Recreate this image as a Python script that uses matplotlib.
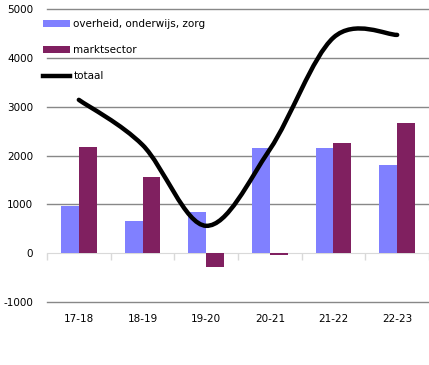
import numpy as np
import matplotlib
matplotlib.use("Agg")
import matplotlib.pyplot as plt
from matplotlib.path import Path
from matplotlib.patches import PathPatch, Patch
from matplotlib.lines import Line2D

categories = ["17-18", "18-19", "19-20", "20-21", "21-22", "22-23"]
overheid = [965, 657, 840, 2155, 2155, 1800]
marktsector = [2175, 1560, -280, -30, 2260, 2670]
totaal = [3140, 2217, 560, 2125, 4415, 4470]
yticks = [-1000, 0, 1000, 2000, 3000, 4000, 5000]

W, H = 429, 365
fig = plt.figure(figsize=(W / 100, H / 100), dpi=100)
ax = fig.add_axes([47 / W, 1 - 302 / H, (429 - 47) / W, (302 - 9) / H])

x = np.arange(len(categories))
bw = 0.28
ax.bar(x - bw / 2, overheid, bw, color="#8080FF", zorder=2)
ax.bar(x + bw / 2, marktsector, bw, color="#802060", zorder=2)

# Smoothed line (Catmull-Rom style Bezier like Excel)
pts = np.column_stack([x, totaal]).astype(float)
n = len(pts)
verts = [tuple(pts[0])]
codes = [Path.MOVETO]
for i in range(n - 1):
    p0 = pts[i - 1] if i > 0 else pts[i]
    p1 = pts[i]
    p2 = pts[i + 1]
    p3 = pts[i + 2] if i + 2 < n else pts[i + 1]
    c1 = p1 + (p2 - p0) / 6
    c2 = p2 - (p3 - p1) / 6
    verts += [tuple(c1), tuple(c2), tuple(p2)]
    codes += [Path.CURVE4] * 3
ax.add_patch(PathPatch(Path(verts, codes), fill=False, edgecolor="black",
                       lw=3.2, zorder=3, capstyle="round"))

ax.set_xlim(-0.5, 5.5)
ax.set_ylim(-1000, 5000)
ax.set_yticks(yticks)
ax.set_yticklabels([str(v) for v in yticks])
ax.tick_params(axis="y", length=0, pad=10, labelsize=7.5)
ax.set_xticks(x)
ax.set_xticklabels(categories)
ax.tick_params(axis="x", which="major", length=0, pad=44, labelsize=7.5)
ax.set_xticks(np.arange(-0.5, 5.6, 1), minor=True)
ax.tick_params(axis="x", which="minor", length=5, color="#d9d9d9", width=1)

for v in yticks:
    if v != 0:
        ax.axhline(v, color="#888888", lw=1, zorder=1, clip_on=False)
for s in ["top", "right", "left"]:
    ax.spines[s].set_visible(False)
ax.spines["bottom"].set_position(("data", 0))
ax.spines["bottom"].set_color("#d9d9d9")
ax.spines["bottom"].set_zorder(1)
ax.set_axisbelow(True)

handles = [Patch(facecolor="#8080FF"), Patch(facecolor="#802060"),
           Line2D([], [], color="black", lw=3.2)]
labels = ["overheid, onderwijs, zorg", "marktsector", "totaal"]
fig.legend(handles, labels, loc="upper left",
           bbox_to_anchor=(43 / W, 1 - 19 / H), frameon=False, fontsize=7.5,
           borderpad=0, borderaxespad=0, handlelength=2.6, handletextpad=0.3,
           labelspacing=1.55)

fig.savefig("out.png", dpi=100)
